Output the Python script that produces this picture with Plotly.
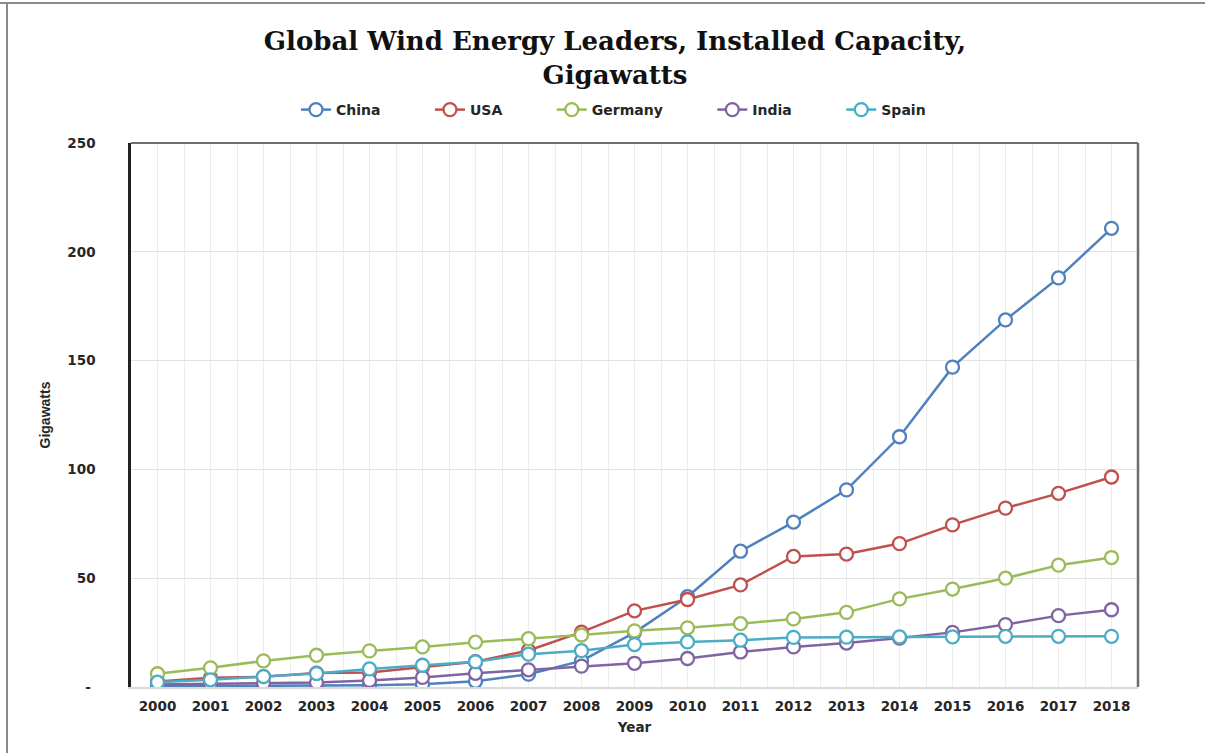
import plotly.graph_objects as go

years = list(range(2000, 2019))
china = [0.3, 0.4, 0.5, 0.6, 0.8, 1.3, 2.6, 5.9, 12.0, 25.0, 41.5, 62.4, 75.8, 90.6, 115.0, 147.0, 168.7, 188.0, 210.8]
usa = [2.5, 4.2, 4.7, 6.4, 6.7, 9.1, 11.6, 16.8, 25.2, 35.0, 40.2, 46.9, 60.0, 61.1, 65.9, 74.5, 82.2, 89.0, 96.5]
germany = [6.1, 8.8, 12.0, 14.6, 16.6, 18.4, 20.6, 22.2, 23.9, 25.8, 27.2, 29.1, 31.3, 34.3, 40.5, 45.0, 50.0, 56.0, 59.5]
india = [1.2, 1.5, 1.7, 2.1, 3.0, 4.4, 6.3, 7.9, 9.6, 10.9, 13.1, 16.1, 18.4, 20.2, 22.5, 25.1, 28.7, 32.8, 35.5]
spain = [2.2, 3.3, 4.8, 6.2, 8.3, 10.0, 11.6, 15.1, 16.7, 19.5, 20.7, 21.5, 22.8, 22.9, 23.0, 23.0, 23.3, 23.3, 23.3]

series = [("China", china, "#4F81BD"), ("USA", usa, "#C0504D"), ("Germany", germany, "#9BBB59"),
          ("India", india, "#8064A2"), ("Spain", spain, "#4BACC6")]

y_ticks = [0, 50, 100, 150, 200, 250]
y_ticktext = ["-\u00a0", "50", "100", "150", "200", "250"]

PAD = "\u00a0" * 10

fig = go.Figure()
for name, vals, col in series:
    fig.add_trace(go.Scatter(
        x=years, y=vals, name=f"<b>{name}</b>{PAD}", mode="lines+markers",
        line=dict(color=col, width=2.5),
        marker=dict(symbol="circle", size=13, color="white", line=dict(color=col, width=2.3)),
    ))

W, H = 1205, 753
L, R, T, B = 131, 1138, 143, 687
pw, ph = R - L, B - T

def px_x(x):
    return (x - L) / pw

def px_y(y):
    return (B - y) / ph

tickfont = dict(family="DejaVu Sans", size=13.5, color="#262626")

fig.update_layout(
    width=W, height=H,
    margin=dict(l=L, r=W - R, t=T, b=H - B, pad=0),
    paper_bgcolor="white", plot_bgcolor="white",
    title=dict(
        text="<b>Global Wind Energy Leaders, Installed Capacity,<br>Gigawatts</b>",
        font=dict(family="DejaVu Serif", size=26, color="#111111"),
        x=px_x(615), xanchor="center", xref="paper", y=1 - 50 / H, yanchor="top",
    ),
    legend=dict(
        orientation="h", x=px_x(300) - 0.004, xanchor="left", y=px_y(110), yanchor="middle",
        font=dict(family="DejaVu Sans", size=14, color="#262626"),
    ),
    xaxis=dict(
        range=[1999.5, 2018.5], tickmode="array", tickvals=years,
        ticktext=[f"<b>{y}</b>" for y in years], tickfont=tickfont,
        showgrid=True, gridcolor="#ececec", gridwidth=1,
        minor=dict(dtick=0.5, tick0=1999.5, showgrid=True, gridcolor="#ececec", gridwidth=1),
        showline=True, linecolor="#d9d9d9", linewidth=1.5,
        ticks="", ticklabelstandoff=6, zeroline=False,
        title=dict(text="<b>Year</b>", font=dict(family="DejaVu Sans", size=13.5, color="#262626"), standoff=10),
    ),
    yaxis=dict(
        range=[0, 250], tickmode="array", tickvals=y_ticks,
        ticktext=[f"<b>{t}</b>" for t in y_ticktext], tickfont=tickfont,
        showgrid=True, gridcolor="#e3e3e3", gridwidth=1,
        showline=True, linecolor="#222222", linewidth=2.5,
        ticks="", ticklabelstandoff=30, zeroline=False,
        title=dict(text="<b>Gigawatts</b>", font=dict(family="Liberation Sans", size=14, color="#262626"), standoff=14),
    ),
    shapes=[
        dict(type="line", xref="paper", yref="paper", x0=0, x1=1, y0=1, y1=1, line=dict(color="#6e6e6e", width=2)),
        dict(type="line", xref="paper", yref="paper", x0=1, x1=1, y0=0, y1=1, line=dict(color="#6e6e6e", width=2.5)),
        dict(type="line", xref="paper", yref="paper", x0=px_x(0), x1=px_x(W), y0=px_y(3), y1=px_y(3), line=dict(color="#8a8a8a", width=2)),
        dict(type="line", xref="paper", yref="paper", x0=px_x(7), x1=px_x(7), y0=px_y(3), y1=px_y(H), line=dict(color="#8a8a8a", width=2)),
    ],
    showlegend=True,
)

fig.write_html("out.html", config={"displayModeBar": False},
               post_script="document.body.style.margin='0';document.body.style.overflow='hidden';")
